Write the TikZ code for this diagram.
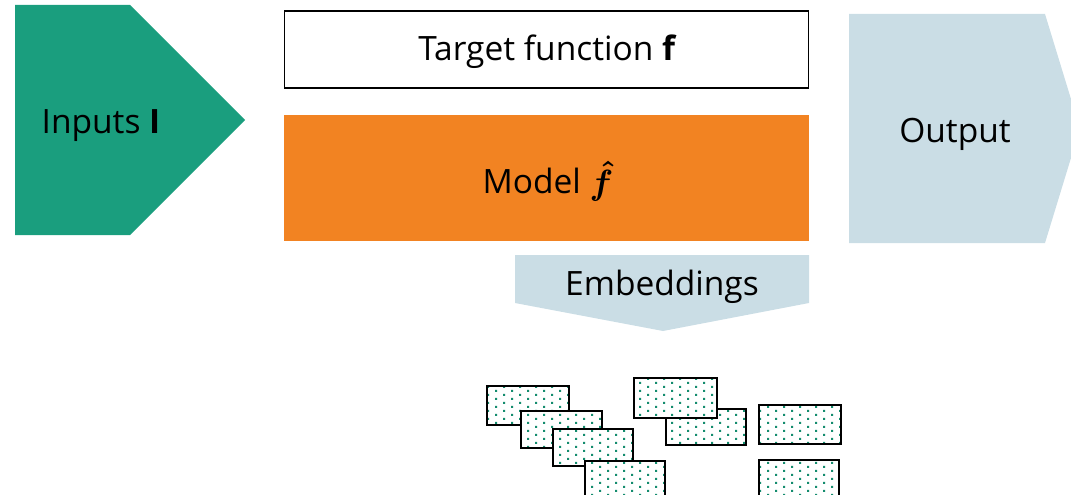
\documentclass[tikz,border=0pt]{standalone}
\usepackage{amsmath}
\usepackage{graphicx}
\usepackage{fontspec}
\setmainfont{Open Sans}
\usetikzlibrary{patterns}
\definecolor{inputgreen}{RGB}{26,158,126}
\definecolor{modelorange}{RGB}{242,131,34}
\definecolor{paleblue}{RGB}{202,221,229}
\definecolor{dotgreen}{RGB}{20,140,110}
\pgfdeclarepatternformonly{pptdots}{\pgfqpoint{-1pt}{-1pt}}{\pgfqpoint{17pt}{9pt}}{\pgfqpoint{16pt}{8pt}}{%
  \pgfpathrectangle{\pgfqpoint{-1pt}{-1pt}}{\pgfqpoint{2pt}{2pt}}%
  \pgfpathrectangle{\pgfqpoint{7pt}{3pt}}{\pgfqpoint{2pt}{2pt}}%
  \pgfusepath{fill}}
\tikzset{
  lbl/.style={font=\fontsize{33.5}{38}\selectfont, text=black, inner sep=0pt},
  embbox/.style={preaction={fill=white}, pattern=pptdots, pattern color=dotgreen,
    draw=black, line width=2pt, anchor=north west, inner sep=0pt},
}
\begin{document}
\begin{tikzpicture}[x=1pt,y=-1pt]
\useasboundingbox (0,0) rectangle (1071,495);
\clip (0,0) rectangle (1071,495);
% Inputs
\fill[inputgreen] (15,5) -- (130,5) -- (245,120) -- (130,235) -- (15,235) -- cycle;
\node[lbl] (inputs) at (101,126) {Inputs \textbf{I}};
% Target function
\node[draw=black, line width=1.3pt, minimum width=524pt, minimum height=77pt, inner sep=0pt] (target) at (546.5,49.5) {};
\node[lbl] (targettext) at (547.5,52) {Target function \textbf{f}};
% Model
\node[fill=modelorange, minimum width=525pt, minimum height=126pt, inner sep=0pt] (model) at (546.5,178) {};
\node[lbl] (modeltext) at (548,181) {Model \raisebox{-1pt}{{\fontsize{10}{12}\selectfont\scalebox{3.5}{\boldmath$\hat{f}$}}}};
% Output
\fill[paleblue] (849,14) -- (1045,14) -- (1080,128.5) -- (1045,243) -- (849,243) -- cycle;
\node[lbl] (output) at (955,134) {Output};
% Embeddings
\fill[paleblue] (515,255) -- (809,255) -- (809,303) -- (663,331) -- (515,303) -- cycle;
\node[lbl] (emb) at (662,287) {Embeddings};
% embedding boxes
\node[embbox, minimum width=82pt, minimum height=39pt] (r1) at (485.5,384.5) {};
\node[embbox, minimum width=81pt, minimum height=37pt] (r2) at (519.5,409.5) {};
\node[embbox, minimum width=80pt, minimum height=37pt] (r3) at (551.5,427.5) {};
\node[embbox, minimum width=80pt, minimum height=40pt] (r4) at (583.5,459.5) {};
\node[embbox, minimum width=80pt, minimum height=36pt] (r5) at (664.5,407.5) {};
\node[embbox, minimum width=83pt, minimum height=40pt] (r6) at (632.5,376.5) {};
\node[embbox, minimum width=82pt, minimum height=39pt] (r7) at (757.5,403.5) {};
\node[embbox, minimum width=80pt, minimum height=40pt] (r8) at (757.5,458.5) {};
\end{tikzpicture}
\end{document}
